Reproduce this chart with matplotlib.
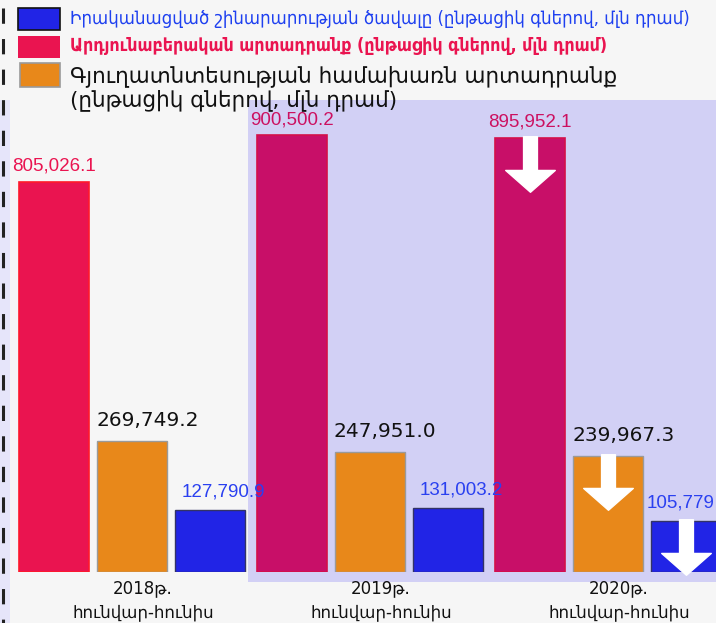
import matplotlib
matplotlib.use("Agg")
import matplotlib.pyplot as plt
import numpy as np
from matplotlib.patches import Rectangle
from matplotlib.path import Path
from matplotlib.transforms import offset_copy, ScaledTranslation
from matplotlib.lines import Line2D

# ---- data ----
periods = ["2018թ.\nհունվար-հունիս", "2019թ.\nհունվար-հունիս", "2020թ.\nհունվար-հունիս"]
industry = [805026.1, 900500.2, 895952.1]
agriculture = [269749.2, 247951.0, 239967.3]
construction = [127790.9, 131003.2, 105779.0]
industry_labels = ["805,026.1", "900,500.2", "895,952.1"]
agriculture_labels = ["269,749.2", "247,951.0", "239,967.3"]
construction_labels = ["127,790.9", "131,003.2", "105,779"]
legend_texts = [
    "Իրականացված շինարարության ծավալը (ընթացիկ գներով, մլն դրամ)",
    "Արդյունաբերական արտադրանք (ընթացիկ գներով, մլն դրամ)",
    "Գյուղատնտեսության համախառն արտադրանք\n(ընթացիկ գներով, մլն դրամ)",
]

W, H = 716, 623
fig = plt.figure(figsize=(W / 100, H / 100), dpi=100)
fig.patch.set_facecolor("#f6f6f6")

def fx(px):
    return px / W

def fy(py):
    return 1 - py / H

# purple overlay panel
fig.patches.append(Rectangle((fx(248), fy(582)), fx(716) - fx(248), fy(100) - fy(582),
                             transform=fig.transFigure, facecolor="#d2d0f5", edgecolor="none", zorder=-5))
fig.patches.append(Rectangle((0, fy(623)), fx(10), fy(100) - fy(623),
                             transform=fig.transFigure, facecolor="#e6e5fa", edgecolor="none", zorder=-5))
# dashed left line
fig.lines.append(Line2D([fx(3), fx(3)], [fy(8), fy(623)], transform=fig.transFigure,
                        color="#222222", lw=2.2, dashes=(5, 5), zorder=-4))

ax = fig.add_axes([0, fy(572), 1, fy(0) - fy(572)])
ax.set_facecolor("none")
for s in ax.spines.values():
    s.set_visible(False)
ax.set_xlim(-0.555, 2.454)
ax.set_ylim(0, 1180000)
ax.set_yticks([])

x = np.arange(len(periods))
step = 0.328
width = 0.294

red_cols = ["#ea1450", "#c80f68", "#c80f68"]
red_edges = ["#ff1a2a", "#d4104a", "#d4104a"]
b_ind = ax.bar(x - step, industry, width, color=red_cols, edgecolor=red_edges, linewidth=1.2, zorder=3)
b_agr = ax.bar(x, agriculture, width, color="#e8881a", edgecolor="#9a9a9a", linewidth=1.0, zorder=3)
b_con = ax.bar(x + step, construction, width, color="#2124e6", edgecolor="#333366", linewidth=1.0, zorder=3)

num_font = ["Liberation Sans", "DejaVu Sans"]
red_label_cols = ["#ea1450", "#cc1060", "#cc1060"]
con_offsets = [13, 13, -5]
for i in range(3):
    ax.annotate(industry_labels[i], (x[i] - step, industry[i]), xytext=(0, 5), textcoords="offset points",
                ha="center", va="bottom", fontsize=13.5, color=red_label_cols[i], family=num_font, zorder=5)
    ax.annotate(agriculture_labels[i], (x[i], agriculture[i]), xytext=(11, 8), textcoords="offset points",
                ha="center", va="bottom", fontsize=14.5, color="#111111", family="DejaVu Sans", zorder=5)
    ax.annotate(construction_labels[i], (x[i] + step, construction[i]),
                xytext=(con_offsets[i] * 0.72, 7), textcoords="offset points",
                ha="center", va="bottom", fontsize=13.5, color="#2a40f0", family=num_font, zorder=5,
                annotation_clip=False)

# white down arrows on 2020 bars
arrow_verts = [(-7, 28), (7, 28), (7, -6), (25, -6), (0, -28), (-25, -6), (-7, -6), (-7, 28)]
arrow_path = Path(arrow_verts, [Path.MOVETO] + [Path.LINETO] * 6 + [Path.CLOSEPOLY])
for vals, pos in [(industry, x[2] - step), (agriculture, x[2]), (construction, x[2] + step)]:
    tr = offset_copy(ax.transData, fig=fig, x=0, y=-19, units="points")
    ax.plot([pos], [vals[2]], marker=arrow_path, markersize=40, color="white",
            markeredgecolor="white", transform=tr, zorder=6, clip_on=False)

ax.set_xticks(x)
ax.set_xticklabels(periods, fontsize=12, family="DejaVu Sans", color="#111111", linespacing=1.45)
ax.tick_params(axis="x", length=0, pad=5)
shift = ScaledTranslation(11 / 100, 0, fig.dpi_scale_trans)
for lab in ax.get_xticklabels():
    lab.set_transform(lab.get_transform() + shift)

# legend (manual)
fig.patches.append(Rectangle((fx(18), fy(30)), fx(60) - fx(18), fy(8) - fy(30), transform=fig.transFigure,
                             facecolor="#2124e6", edgecolor="#111111", lw=1.2, zorder=2))
fig.patches.append(Rectangle((fx(18), fy(58)), fx(60) - fx(18), fy(36) - fy(58), transform=fig.transFigure,
                             facecolor="#ea1450", edgecolor="none", zorder=2))
fig.patches.append(Rectangle((fx(20), fy(87)), fx(60) - fx(20), fy(63) - fy(87), transform=fig.transFigure,
                             facecolor="#e8881a", edgecolor="#9a9a9a", lw=1.2, zorder=2))
fig.text(fx(70), fy(19), legend_texts[0], color="#1e40f0", fontsize=13.3, family="DejaVu Sans",
         fontstretch="condensed", va="center", ha="left")
fig.text(fx(70), fy(46), legend_texts[1], color="#ea1450", fontsize=12.8, family="DejaVu Sans",
         fontstretch="condensed", fontweight="bold", va="center", ha="left")
fig.text(fx(70), fy(88), legend_texts[2], color="#111111", fontsize=15.5, family="DejaVu Sans",
         va="center", ha="left", linespacing=1.15)

fig.savefig("out.png", dpi=100, facecolor=fig.get_facecolor())
